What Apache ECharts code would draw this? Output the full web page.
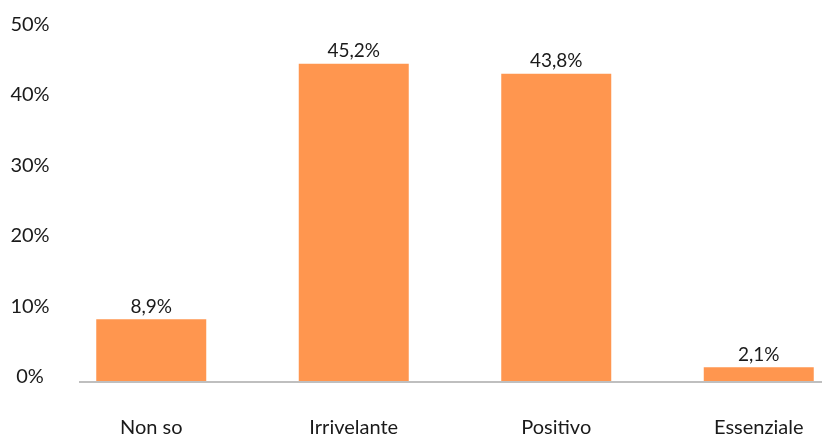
<!DOCTYPE html>
<html><head><meta charset="utf-8">
<script src="https://cdn.jsdelivr.net/npm/echarts@6/dist/echarts.min.js"></script>
<style>html,body{margin:0;padding:0;background:#fff}#c{width:824px;height:438px}</style>
</head><body><div id="c"></div>
<script>
const categories = ["Non so", "Irrivelante", "Positivo", "Essenziale"];
const values = [8.9, 45.2, 43.8, 2.1];
const yTicks = [0, 10, 20, 30, 40, 50];

const chart = echarts.init(document.getElementById('c'), null, {renderer: 'canvas'});
const font = 'Lato, "Noto Sans", sans-serif';
chart.setOption({
  animation: false,
  grid: {left: 50, top: 30, bottom: 56, right: -36, containLabel: false, outerBoundsMode: 'none'},
  xAxis: {
    type: 'category', data: categories,
    axisLine: {show: false}, axisTick: {show: false},
    axisLabel: {color: '#1a1a1a', fontSize: 20, fontFamily: font, margin: 36}
  },
  yAxis: {
    type: 'value', min: yTicks[0], max: yTicks[yTicks.length - 1], interval: 10,
    splitLine: {show: false}, axisLine: {show: false}, axisTick: {show: false},
    axisLabel: {color: '#1a1a1a', fontSize: 20, fontFamily: font, align: 'center', margin: 20,
      verticalAlign: 'bottom', lineHeight: 11, formatter: v => v + '%'}
  },
  graphic: [{type: 'line', shape: {x1: 79, y1: 382, x2: 822, y2: 382}, style: {stroke: '#bfbfbf', lineWidth: 2}, z: 10}],
  series: [{
    type: 'bar', data: values, barWidth: 110,
    itemStyle: {color: '#ff964f'},
    label: {show: true, position: 'top', distance: 3, color: '#1a1a1a', fontSize: 19, fontFamily: font,
      formatter: p => p.value.toFixed(1).replace('.', ',') + '%'}
  }]
});
</script></body></html>
